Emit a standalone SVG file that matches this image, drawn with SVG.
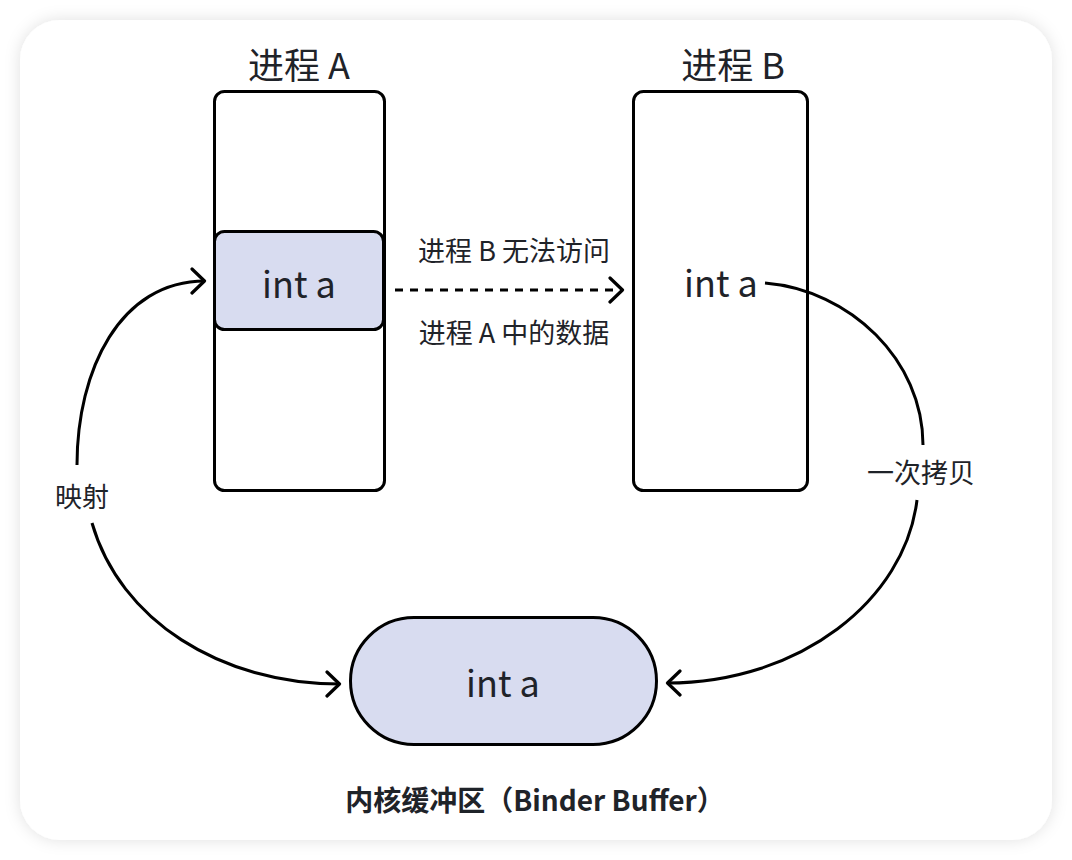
<svg xmlns="http://www.w3.org/2000/svg" width="1072" height="860" viewBox="0 0 1072 860">
<defs>
<filter id="shadow" x="-10%" y="-10%" width="120%" height="120%">
<feDropShadow dx="0" dy="0" stdDeviation="8" flood-color="#000" flood-opacity="0.12"/>
</filter>
<marker id="arr" viewBox="0 0 20 28" markerWidth="20" markerHeight="28" refX="18" refY="14" orient="auto" markerUnits="userSpaceOnUse">
<path d="M 5 2 L 17.5 14 L 5 26" fill="none" stroke="#000" stroke-width="3.2" stroke-linecap="round" stroke-linejoin="round"/>
</marker>
<style>
.box{fill:#fff;stroke:#000;stroke-width:3}
.fill{fill:#D8DCF0;stroke:#000;stroke-width:3}
.t{font-family:"Noto Sans CJK SC","Noto Sans",sans-serif;fill:#1f2329;text-anchor:middle}
.big{font-size:36px}
.title{font-size:36px}
.lbl{font-size:27px}
.edge{fill:none;stroke:#000;stroke-width:3}
</style>
</defs>
<rect x="0" y="0" width="1072" height="860" fill="#fff"/>
<rect x="20" y="20" width="1032" height="820" rx="40" fill="#fff" filter="url(#shadow)"/>

<g id="procA">
<rect class="box" x="214.5" y="91.5" width="170" height="399" rx="10"/>
<text class="t title" x="299" y="79">进程 A</text>
</g>
<g id="intA">
<rect class="fill" x="214.5" y="231.5" width="169" height="98" rx="10"/>
<text class="t big" x="299" y="298">int a</text>
</g>
<g id="procB">
<rect class="box" x="633.5" y="91.5" width="174" height="399" rx="10"/>
<text class="t title" x="733" y="79">进程 B</text>
</g>
<g id="intB">
<text class="t big" x="721" y="297">int a</text>
</g>
<g id="buffer">
<rect class="fill" x="350.5" y="617.5" width="306" height="127" rx="63.5"/>
<text class="t big" x="503" y="697">int a</text>
<text class="t" x="535" y="811" font-size="28" font-weight="bold">内核缓冲区（Binder Buffer）</text>
</g>

<g id="connectors">
<path class="edge" d="M 395 290 L 623 290" stroke-dasharray="8 7" marker-end="url(#arr)"/>
<text class="t lbl" x="514" y="261">进程 B 无法访问</text>
<text class="t lbl" x="514" y="343">进程 A 中的数据</text>

<path class="edge" d="M 77 465 C 77 370 120 281 205 281" marker-end="url(#arr)"/>
<path class="edge" d="M 92 523 C 120 620 220 684 340 684" marker-end="url(#arr)"/>
<text class="t lbl" x="82" y="507">映射</text>

<path class="edge" d="M 765 283 C 850 290 923 360 923 445"/>
<path class="edge" d="M 917 500 C 905 600 800 683 667 683" marker-end="url(#arr)"/>
<text class="t lbl" x="921" y="483">一次拷贝</text>
</g>
</svg>
